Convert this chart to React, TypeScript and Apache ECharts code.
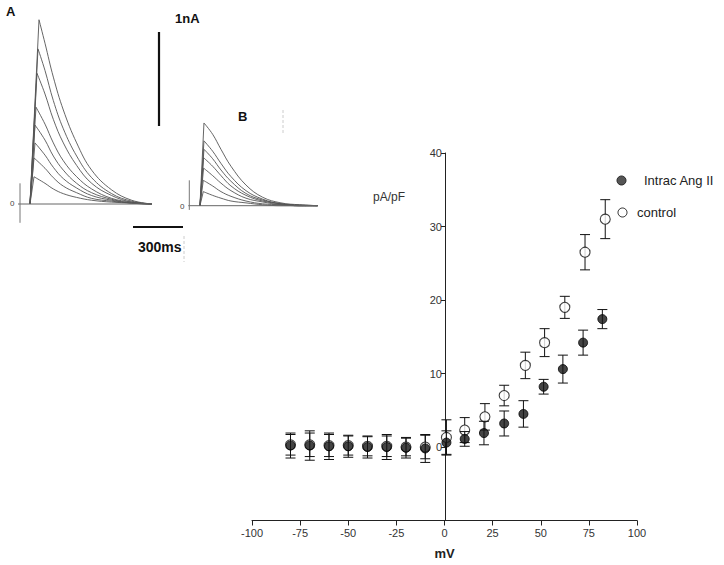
import React, { useEffect, useRef } from "react";
import * as echarts from "echarts";

// ---------- Panel A / B current traces (time in ms, current in nA) ----------
const A_ONSET_MS = 60;
const A_PEAK_MS = [114, 108, 102, 96, 90, 90, 84, 84];
const A_PEAK_NA = [1.96, 1.65, 1.39, 1.03, 0.84, 0.65, 0.49, 0.29];
const A_DECAY_MS = [150, 200, 260, 340, 430, 550, 670, 790];
const A_DECAY_NA = [
  [1.71, 1.35, 1.0, 0.65, 0.36, 0.15, 0.04, 0],
  [1.42, 1.1, 0.8, 0.51, 0.28, 0.11, 0.03, 0],
  [1.17, 0.9, 0.65, 0.41, 0.22, 0.09, 0.02, 0],
  [0.85, 0.65, 0.46, 0.29, 0.16, 0.06, 0.02, 0],
  [0.68, 0.51, 0.36, 0.22, 0.12, 0.05, 0.01, 0],
  [0.52, 0.39, 0.27, 0.17, 0.09, 0.04, 0.01, 0],
  [0.38, 0.28, 0.19, 0.12, 0.06, 0.03, 0.01, 0],
  [0.22, 0.16, 0.11, 0.07, 0.04, 0.02, 0.01, 0],
];
const A_BASELINE_MS = [-12, 792];

const B_ONSET_MS = 64;
const B_PEAK_MS = [88, 88, 88, 86, 86, 84, 84];
const B_PEAK_NA = [0.88, 0.69, 0.6, 0.51, 0.4, 0.27, 0.15];
const B_DECAY_MS = [140, 190, 250, 340, 440, 550, 660, 770];
const B_DECAY_NA = [
  [0.76, 0.6, 0.42, 0.22, 0.09, 0.03, 0.01, 0],
  [0.58, 0.45, 0.31, 0.16, 0.07, 0.02, 0.01, 0],
  [0.5, 0.38, 0.26, 0.13, 0.06, 0.02, 0, 0],
  [0.42, 0.32, 0.21, 0.11, 0.05, 0.02, 0, 0],
  [0.32, 0.24, 0.16, 0.08, 0.04, 0.01, 0, 0],
  [0.21, 0.15, 0.1, 0.05, 0.02, 0.01, 0, 0],
  [0.11, 0.08, 0.05, 0.03, 0.01, 0, 0, 0],
];
const B_BASELINE_MS = [-6, 770];

const STUB_A_NA = [-0.2, 0.22];
const STUB_B_NA = [-0.045, 0.27];
const SCALE_NA = 1;
const SCALE_MS = 300;

// ---------- I-V relation (mV, pA/pF) ----------
const ANG_MV = [-80, -70, -60, -50, -40, -30, -20, -10, 1, 10.5, 20.5, 31, 41, 51.5, 61.5, 72, 82];
const ANG_VAL = [0.2, 0.2, 0.1, 0.1, 0, 0, -0.1, -0.2, 0.6, 1.1, 1.9, 3.2, 4.5, 8.2, 10.6, 14.2, 17.4];
const ANG_ERR = [1.7, 2.0, 1.8, 1.5, 1.5, 1.7, 1.4, 1.9, 1.6, 1.0, 1.6, 1.7, 1.8, 1.0, 1.9, 1.7, 1.3];
const CTRL_MV = [-80, -70, -60, -50, -40, -30, -20, -10, 1, 10.5, 21, 31, 42, 52, 62.5, 73, 83.5];
const CTRL_VAL = [0.3, 0.3, 0.2, 0.2, 0.1, 0.1, 0.0, 0.0, 1.3, 2.3, 4.1, 7.0, 11.1, 14.2, 19.0, 26.5, 31.0];
const CTRL_ERR = [1.4, 1.6, 1.5, 1.3, 1.3, 1.4, 1.2, 1.6, 2.4, 1.7, 1.8, 1.4, 1.8, 1.9, 1.5, 2.4, 2.65];

const X_TICKS_MV = [-100, 100, 25];
const Y_TICKS = [-10, 40, 10];

const FONT = "'Liberation Sans', Arial, sans-serif";
const TRACE = "#555";

function traceSeries(grid: number, onset: number, peaksT: number[], peaksI: number[], decT: number[], decI: number[][]) {
  const out: any[] = [];
  peaksT.forEach((pt, k) => {
    out.push({
      type: "line", xAxisIndex: grid, yAxisIndex: grid, symbol: "none",
      lineStyle: { color: TRACE, width: 0.9 }, silent: true,
      data: [[onset, 0], [pt, peaksI[k]]],
    });
    out.push({
      type: "line", xAxisIndex: grid, yAxisIndex: grid, symbol: "none",
      smooth: 0.4,
      lineStyle: { color: TRACE, width: 0.9 }, silent: true,
      data: [[pt, peaksI[k]], ...decT.map((t, i) => [t, decI[k][i]])],
    });
  });
  return out;
}

function errRender(params: any, api: any) {
  const x = api.value(0), y = api.value(1), e = api.value(2);
  const t = api.coord([x, y + e]);
  const b = api.coord([x, y - e]);
  const hw = 5;
  const st = { stroke: "#111", lineWidth: 1 };
  return {
    type: "group",
    children: [
      { type: "line", shape: { x1: t[0], y1: t[1], x2: b[0], y2: b[1] }, style: st },
      { type: "line", shape: { x1: t[0] - hw, y1: t[1], x2: t[0] + hw, y2: t[1] }, style: st },
      { type: "line", shape: { x1: b[0] - hw, y1: b[1], x2: b[0] + hw, y2: b[1] }, style: st },
    ],
  };
}

export default function App() {
  const ref = useRef<HTMLDivElement>(null);
  useEffect(() => {
    if (!ref.current) return;
    const chart = echarts.init(ref.current, null, { renderer: "svg" });
    const hidden = (min: number, max: number, g: number) => ({ type: "value", gridIndex: g, min, max, show: false });

    const series: any[] = [
      ...traceSeries(0, A_ONSET_MS, A_PEAK_MS, A_PEAK_NA, A_DECAY_MS, A_DECAY_NA),
      ...traceSeries(1, B_ONSET_MS, B_PEAK_MS, B_PEAK_NA, B_DECAY_MS, B_DECAY_NA),
      { type: "line", xAxisIndex: 0, yAxisIndex: 0, symbol: "none", silent: true,
        lineStyle: { color: "#666", width: 1 }, data: A_BASELINE_MS.map((t) => [t, 0]) },
      { type: "line", xAxisIndex: 1, yAxisIndex: 1, symbol: "none", silent: true,
        lineStyle: { color: "#666", width: 1 }, data: B_BASELINE_MS.map((t) => [t, 0]) },
      { type: "line", xAxisIndex: 0, yAxisIndex: 0, symbol: "none", silent: true,
        lineStyle: { color: "#777", width: 1 }, data: STUB_A_NA.map((v) => [0, v]) },
      { type: "line", xAxisIndex: 1, yAxisIndex: 1, symbol: "none", silent: true,
        lineStyle: { color: "#777", width: 1 }, data: STUB_B_NA.map((v) => [0, v]) },
      // scale bars
      { type: "line", xAxisIndex: 0, yAxisIndex: 0, symbol: "none", silent: true,
        lineStyle: { color: "#111", width: 2.2 }, data: [[834, 0.83], [834, 0.83 + SCALE_NA]] },
      { type: "line", xAxisIndex: 0, yAxisIndex: 0, symbol: "none", silent: true,
        lineStyle: { color: "#111", width: 2 }, data: [[678, -0.245], [678 + SCALE_MS, -0.245]] },
      // I-V
      { type: "custom", name: "control", xAxisIndex: 2, yAxisIndex: 2, renderItem: errRender, z: 3,
        encode: { x: 0, y: 1 }, data: CTRL_MV.map((v, i) => [v, CTRL_VAL[i], CTRL_ERR[i]]) },
      { type: "scatter", name: "control", xAxisIndex: 2, yAxisIndex: 2, symbol: "circle", symbolSize: 10, z: 4,
        itemStyle: { color: "#fff", borderColor: "#111", borderWidth: 1.1 },
        data: CTRL_MV.map((v, i) => [v, CTRL_VAL[i]]) },
      { type: "custom", name: "Intrac Ang II", xAxisIndex: 2, yAxisIndex: 2, renderItem: errRender, z: 5,
        encode: { x: 0, y: 1 }, data: ANG_MV.map((v, i) => [v, ANG_VAL[i], ANG_ERR[i]]) },
      { type: "scatter", name: "Intrac Ang II", xAxisIndex: 2, yAxisIndex: 2, symbol: "circle", symbolSize: 9, z: 6,
        itemStyle: { color: "#151515", borderColor: "#000", borderWidth: 1 },
        data: ANG_MV.map((v, i) => [v, ANG_VAL[i]]) },
    ];

    chart.setOption({
      animation: false,
      backgroundColor: "#fff",
      textStyle: { fontFamily: FONT },
      grid: [
        { left: 18, top: 16, width: 168.67, height: 216.2 },
        { left: 188.3, top: 111.7, width: 131, height: 112.8 },
        { left: 252, top: 153, width: 385, height: 367.5 },
        { left: 445, top: 153, width: 10, height: 367.5 },
      ],
      xAxis: [
        hidden(-12, 1000, 0),
        hidden(-6, 780, 1),
        {
          type: "value", gridIndex: 2, min: X_TICKS_MV[0], max: X_TICKS_MV[1], interval: X_TICKS_MV[2],
          name: "mV", nameLocation: "middle", nameGap: 26,
          nameTextStyle: { fontSize: 13, fontWeight: "bold", color: "#222", fontFamily: FONT },
          axisLine: { onZero: false, lineStyle: { color: "#222", width: 1 } },
          axisTick: { length: 5, lineStyle: { color: "#222" } },
          axisLabel: { fontSize: 11, color: "#333", margin: 7, fontFamily: FONT },
          splitLine: { show: false },
        },
        hidden(0, 1, 3),
      ],
      yAxis: [
        hidden(-0.3, 2.0, 0),
        hidden(-0.2, 1.0, 1),
        hidden(Y_TICKS[0], Y_TICKS[1], 2),
        {
          type: "value", gridIndex: 3, position: "left", min: Y_TICKS[0], max: Y_TICKS[1], interval: Y_TICKS[2],
          axisLine: { show: true, onZero: false, lineStyle: { color: "#222", width: 1 } },
          axisTick: { show: true, length: 4, lineStyle: { color: "#222" } },
          axisLabel: { fontSize: 11, color: "#333", margin: 3, fontFamily: FONT,
            formatter: (v: number) => (v < 0 ? "" : String(v)) },
          splitLine: { show: false },
        },
      ],
      legend: [
        {
          data: [{ name: "Intrac Ang II", icon: "circle", itemStyle: { color: "#555", borderColor: "#222", borderWidth: 1 } }],
          left: 616.5, top: 174, itemWidth: 9, itemHeight: 9, padding: 0, selectedMode: false,
          textStyle: { fontSize: 13, color: "#222", fontFamily: FONT, padding: [0, 0, 0, 13] },
        },
        {
          data: [{ name: "control", icon: "circle", itemStyle: { color: "#fff", borderColor: "#222", borderWidth: 1 } }],
          left: 617.5, top: 206, itemWidth: 9, itemHeight: 9, padding: 0, selectedMode: false,
          textStyle: { fontSize: 13, color: "#222", fontFamily: FONT, padding: [0, 0, 0, 5] },
        },
      ],
      graphic: [
        { type: "text", left: 6, top: 5, style: { text: "A", fontSize: 13, fontWeight: "bold", fill: "#111", fontFamily: FONT } },
        { type: "text", left: 238, top: 110, style: { text: "B", fontSize: 13, fontWeight: "bold", fill: "#111", fontFamily: FONT } },
        { type: "text", left: 175, top: 12, style: { text: "1nA", fontSize: 13, fontWeight: "bold", fill: "#111", fontFamily: FONT } },
        { type: "text", left: 138, top: 240, style: { text: "300ms", fontSize: 14, fontWeight: "bold", fill: "#111", fontFamily: FONT } },
        { type: "text", left: 10, top: 199, style: { text: "0", fontSize: 8, fill: "#444", fontFamily: FONT } },
        { type: "text", left: 180, top: 202, style: { text: "0", fontSize: 8, fill: "#444", fontFamily: FONT } },
        { type: "text", left: 373, top: 191, style: { text: "pA/pF", fontSize: 12, fill: "#333", fontFamily: FONT } },
        { type: "line", shape: { x1: 283, y1: 110, x2: 283, y2: 134 }, style: { stroke: "#ccc", lineWidth: 1, lineDash: [3, 2] } },
        { type: "line", shape: { x1: 184, y1: 236, x2: 184, y2: 262 }, style: { stroke: "#ccc", lineWidth: 1, lineDash: [3, 2] } },
      ],
      series,
    });
    return () => chart.dispose();
  }, []);
  return <div ref={ref} style={{ position: "fixed", left: 0, top: 0, width: 724, height: 565 }} />;
}
